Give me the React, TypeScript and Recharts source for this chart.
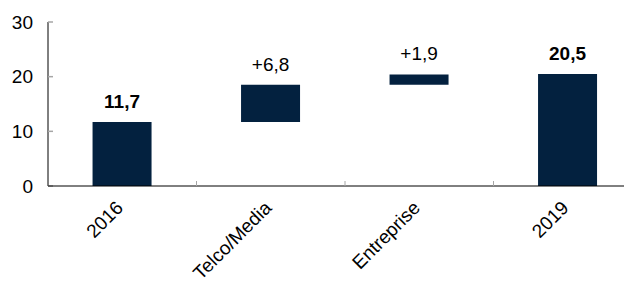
import React from 'react';
import { BarChart, Bar, XAxis, YAxis, LabelList } from 'recharts';

const categories = ['2016', 'Telco/Media', 'Entreprise', '2019'];
const values = [11.7, 6.8, 1.9, 20.5];
const isTotal = [true, false, false, true];
const yTicks = [0, 10, 20, 30];

const NAVY = '#03213f';
const FONT = '"Liberation Sans", Arial, sans-serif';
const CHART_W = 640;
const MARGIN_RIGHT = 6;
const Y_W = 40;
const BAND = (CHART_W - Y_W - MARGIN_RIGHT) / categories.length;

const fmt = (v: number) => v.toFixed(1).replace('.', ',');

let running = 0;
const data = categories.map((name, i) => {
  const base = isTotal[i] ? 0 : running;
  running = isTotal[i] ? values[i] : running + values[i];
  return {
    name,
    base,
    value: values[i],
    label: isTotal[i] ? fmt(values[i]) : '+' + fmt(values[i]),
    bold: isTotal[i],
  };
});

const XTick = (props: any) => {
  const { x, y, payload, index } = props;
  const ax = x + 2;
  const ay = y + 23;
  return (
    <g>
      {index > 0 && (
        <line x1={x - BAND / 2} x2={x - BAND / 2} y1={y - 5} y2={y} stroke="#a6a6a6" strokeWidth={1} />
      )}
      <text
        x={ax}
        y={ay}
        transform={`rotate(-45, ${ax}, ${ay})`}
        textAnchor="end"
        fontSize={19}
        fontFamily={FONT}
        fill="#000"
      >
        {payload.value}
      </text>
    </g>
  );
};

const ValueLabel = (props: any) => {
  const { x, y, width, index } = props;
  const d = data[index];
  return (
    <text
      x={x + width / 2}
      y={y - 14}
      textAnchor="middle"
      fontSize={19}
      fontFamily={FONT}
      fontWeight={d.bold ? 'bold' : 'normal'}
      fill="#000"
    >
      {d.label}
    </text>
  );
};

export default function App() {
  return (
    <div style={{ width: 624, height: 274, overflow: 'hidden' }}>
      <BarChart
        width={CHART_W}
        height={274}
        data={data}
        margin={{ top: 14, right: MARGIN_RIGHT, left: 0, bottom: 0 }}
        barCategoryGap="30%"
      >
        <YAxis
          width={Y_W}
          domain={[0, 30]}
          ticks={yTicks}
          interval={0}
          axisLine={{ stroke: '#000', strokeWidth: 1 }}
          tickLine={{ stroke: '#a6a6a6', strokeWidth: 1.5 }}
          tickSize={-5}
          tickMargin={20}
          tick={{ fontSize: 19, fill: '#000', fontFamily: FONT }}
        />
        <XAxis
          dataKey="name"
          height={96}
          axisLine={{ stroke: '#000', strokeWidth: 1 }}
          tickLine={false}
          tickSize={0}
          tickMargin={0}
          interval={0}
          tick={<XTick />}
        />
        <Bar dataKey="base" stackId="w" fill="transparent" isAnimationActive={false} />
        <Bar dataKey="value" stackId="w" fill={NAVY} isAnimationActive={false}>
          <LabelList dataKey="value" content={<ValueLabel />} />
        </Bar>
      </BarChart>
    </div>
  );
}
